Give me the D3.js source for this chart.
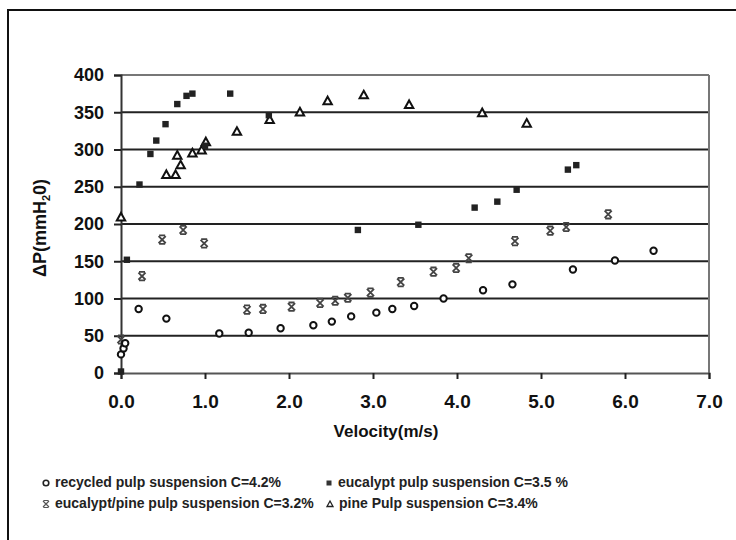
<!DOCTYPE html>
<html>
<head>
<meta charset="utf-8">
<script src="https://cdn.jsdelivr.net/npm/d3@7"></script>
<style>
  body { margin: 0; background: #fff; }
  text { font-family: "Liberation Sans", Arial, sans-serif; }
</style>
</head>
<body>
<div id="chart-area"></div>
<script>
// recycled pulp suspension C=4.2% (open circles)
const recycledX = [0.0, 0.03, 0.05, 0.21, 0.54, 1.17, 1.52, 1.90, 2.29, 2.51, 2.74, 3.04, 3.23, 3.49, 3.84, 4.31, 4.66, 5.38, 5.88, 6.34];
const recycledY = [25, 33, 40, 86, 73, 53, 54, 60, 64, 69, 76, 81, 86, 90, 100, 111, 119, 139, 151, 164];

// eucalypt pulp suspension C=3.5 % (filled squares)
const eucalyptX = [0.0, 0.07, 0.22, 0.35, 0.42, 0.53, 0.67, 0.78, 0.85, 1.0, 1.30, 1.76, 2.82, 3.54, 4.21, 4.48, 4.71, 5.32, 5.42];
const eucalyptY = [2, 152, 253, 294, 312, 334, 361, 372, 375, 305, 375, 346, 192, 199, 222, 230, 246, 273, 279];

// eucalypt/pine pulp suspension C=3.2% (crosses)
const mixX = [0.0, 0.25, 0.49, 0.74, 0.99, 1.50, 1.69, 2.03, 2.37, 2.55, 2.70, 2.97, 3.33, 3.72, 3.99, 4.14, 4.69, 5.11, 5.30, 5.80];
const mixY = [45, 130, 179, 192, 174, 85, 86, 89, 94, 97, 101, 108, 122, 136, 141, 154, 177, 191, 196, 213];

// pine Pulp suspension C=3.4% (open triangles)
const pineX = [0.0, 0.54, 0.65, 0.67, 0.71, 0.85, 0.96, 1.01, 1.38, 1.77, 2.13, 2.46, 2.89, 3.43, 4.30, 4.83];
const pineY = [209, 266, 266, 292, 279, 295, 299, 310, 324, 340, 350, 365, 373, 360, 349, 335];

const xTicks = [0, 1, 2, 3, 4, 5, 6, 7];
const yTicks = [0, 50, 100, 150, 200, 250, 300, 350, 400];

const legendLabels = [
  "recycled pulp suspension C=4.2%",
  "eucalypt pulp suspension C=3.5 %",
  "eucalypt/pine pulp suspension C=3.2%",
  "pine Pulp suspension C=3.4%"
];

const W = 736, H = 540;
const plotLeft = 121, plotRight = 709, plotTop = 75, plotBottom = 373;

const svg = d3.select("#chart-area")
  .append("svg")
  .attr("width", W)
  .attr("height", H);

// outer frame (cut at the right and bottom edges)
svg.append("rect")
  .attr("x", 8).attr("y", 10)
  .attr("width", 760).attr("height", 560)
  .attr("fill", "none")
  .attr("stroke", "#111")
  .attr("stroke-width", 2);

const x = d3.scaleLinear().domain([0, 7]).range([plotLeft, plotRight]);
const y = d3.scaleLinear().domain([0, 400]).range([plotBottom, plotTop]);

// horizontal gridlines
svg.append("g")
  .selectAll("line")
  .data(yTicks.filter(d => d > 0))
  .enter()
  .append("line")
  .attr("x1", plotLeft).attr("x2", plotRight)
  .attr("y1", d => y(d)).attr("y2", d => y(d))
  .attr("stroke", d => d === 400 ? "#777" : "#222")
  .attr("stroke-width", 2);

// right border of plot
svg.append("line")
  .attr("x1", plotRight).attr("x2", plotRight)
  .attr("y1", plotTop).attr("y2", plotBottom)
  .attr("stroke", "#777")
  .attr("stroke-width", 2);

const xAxis = d3.axisBottom(x)
  .tickValues(xTicks)
  .tickSize(6)
  .tickFormat(d3.format(".1f"));

const yAxis = d3.axisLeft(y)
  .tickValues(yTicks)
  .tickSize(7)
  .tickFormat(d3.format("d"));

const gx = svg.append("g")
  .attr("transform", `translate(0, ${plotBottom})`)
  .call(xAxis);
gx.select(".domain").attr("stroke", "#555").attr("stroke-width", 2);
gx.selectAll(".tick line").attr("stroke", "#222").attr("stroke-width", 2);
gx.selectAll(".tick text")
  .attr("y", 22)
  .attr("font-size", "19px")
  .attr("font-weight", "bold")
  .attr("fill", "#111");

const gy = svg.append("g")
  .attr("transform", `translate(${plotLeft}, 0)`)
  .call(yAxis);
gy.select(".domain").attr("stroke", "#333").attr("stroke-width", 2);
gy.selectAll(".tick line").attr("stroke", "#222").attr("stroke-width", 2);
gy.selectAll(".tick text")
  .attr("x", -17)
  .attr("font-size", "18px")
  .attr("font-weight", "bold")
  .attr("fill", "#111");

// axis titles
svg.append("text")
  .attr("x", 386)
  .attr("y", 437)
  .attr("text-anchor", "middle")
  .attr("font-size", "17px")
  .attr("font-weight", "bold")
  .attr("fill", "#111")
  .text("Velocity(m/s)");

const yTitle = svg.append("text")
  .attr("transform", "translate(46, 228) rotate(-90)")
  .attr("text-anchor", "middle")
  .attr("font-size", "18px")
  .attr("font-weight", "bold")
  .attr("fill", "#111");
yTitle.append("tspan").text("\u0394P(mmH");
yTitle.append("tspan").attr("font-size", "11px").attr("dy", 4).text("2");
yTitle.append("tspan").attr("dy", -4).text("0)");

// marker drawers
function drawCircle(g) {
  g.append("circle").attr("r", 3.2)
    .attr("fill", "#fff").attr("stroke", "#111").attr("stroke-width", 2);
}
function drawSquare(g) {
  g.append("rect").attr("x", -3.2).attr("y", -3.2)
    .attr("width", 6.4).attr("height", 6.4)
    .attr("fill", "#222");
}
function drawCross(g) {
  g.append("path")
    .attr("d", "M-3.6,-3.6L3.6,3.6M3.6,-3.6L-3.6,3.6M-3,-4.2L3,-4.2M-3,4.2L3,4.2")
    .attr("fill", "none").attr("stroke", "#444").attr("stroke-width", 1.8);
}
function drawTriangle(g) {
  g.append("path")
    .attr("d", "M0,-4.4L4.2,3.2L-4.2,3.2Z")
    .attr("fill", "#fff").attr("stroke", "#111").attr("stroke-width", 2);
}

const series = [
  { xs: pineX, ys: pineY, draw: drawTriangle },
  { xs: eucalyptX, ys: eucalyptY, draw: drawSquare },
  { xs: mixX, ys: mixY, draw: drawCross },
  { xs: recycledX, ys: recycledY, draw: drawCircle }
];

series.forEach(s => {
  const pts = s.xs.map((v, i) => ({ vx: v, vy: s.ys[i] }));
  svg.append("g")
    .selectAll("g")
    .data(pts)
    .enter()
    .append("g")
    .attr("transform", d => `translate(${x(d.vx)}, ${y(d.vy)})`)
    .each(function() { s.draw(d3.select(this)); });
});

// legend
const legendPos = [
  { lx: 46, ly: 487, draw: "circle" },
  { lx: 329, ly: 487, draw: "square" },
  { lx: 46, ly: 508, draw: "cross" },
  { lx: 330, ly: 508, draw: "triangle" }
];
const legend = svg.append("g");
legendPos.forEach((p, i) => {
  const m = legend.append("g").attr("transform", `translate(${p.lx}, ${p.ly - 4})`);
  if (p.draw === "circle") {
    m.append("circle").attr("r", 2.8).attr("fill", "#fff").attr("stroke", "#222").attr("stroke-width", 1.6);
  } else if (p.draw === "square") {
    m.append("rect").attr("x", -2.5).attr("y", -2.5).attr("width", 5).attr("height", 5).attr("fill", "#333");
  } else if (p.draw === "cross") {
    m.append("path").attr("d", "M-3,-3L3,3M3,-3L-3,3M-2.5,-3.5L2.5,-3.5M-2.5,3.5L2.5,3.5").attr("stroke", "#555").attr("stroke-width", 1.2);
  } else {
    m.append("path").attr("d", "M0,-3L3,2.5L-3,2.5Z").attr("fill", "none").attr("stroke", "#222").attr("stroke-width", 1.3);
  }
  legend.append("text")
    .attr("x", p.lx + 9)
    .attr("y", p.ly)
    .attr("font-size", "14px")
    .attr("font-weight", "bold")
    .attr("fill", "#222")
    .text(legendLabels[i]);
});
</script>
</body>
</html>
